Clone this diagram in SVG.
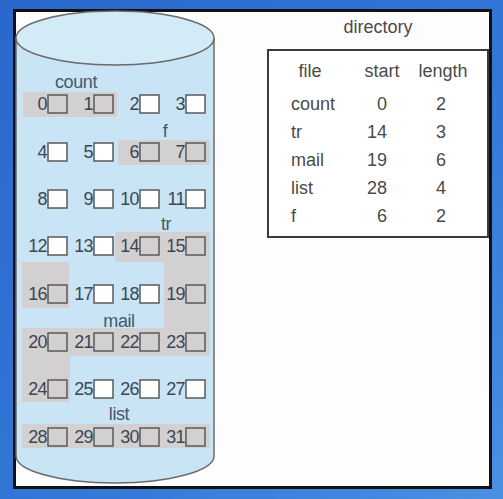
<svg xmlns="http://www.w3.org/2000/svg" width="503" height="499" viewBox="0 0 503 499">
<defs>
<linearGradient id="bg" x1="0" y1="0" x2="1" y2="1">
<stop offset="0" stop-color="#2a68cc"/>
<stop offset="0.6" stop-color="#3379d8"/>
<stop offset="1" stop-color="#4a90e4"/>
</linearGradient>
<style>
.num{font-family:"Liberation Sans",Arial,sans-serif;font-size:18px;fill:#3c4754;text-anchor:end;letter-spacing:-0.6px}
.lbl{font-family:"Liberation Sans",Arial,sans-serif;font-size:18px;fill:#46586c;text-anchor:middle;letter-spacing:-0.4px}
.box{fill:#ffffff;stroke:#5a5a5a;stroke-width:1.5}
.used{fill:#d3d0d1}
.shade{fill:#d3d0d1}
.tx{font-family:"Liberation Sans",Arial,sans-serif;font-size:18px;fill:#4a4a4a}
</style>
</defs>
<rect x="0" y="0" width="503" height="499" fill="url(#bg)"/>
<rect x="14.5" y="10.5" width="476" height="477" fill="#fdfdfd" stroke="#111" stroke-width="3"/>

<g id="disk">
<path d="M16,38 L16,456 A99,27 0 0 0 214,456 L214,38 Z" fill="#c9e4f4" stroke="#6a6a6a" stroke-width="1.5"/>
<rect class="shade" x="23" y="92" width="94" height="25"/>
<rect class="shade" x="118" y="140" width="92" height="25"/>
<rect class="shade" x="115" y="232" width="95" height="30"/>
<rect class="shade" x="22" y="262" width="47" height="46"/>
<rect class="shade" x="164" y="262" width="46" height="66"/>
<rect class="shade" x="22" y="328" width="188" height="28"/>
<rect class="shade" x="22" y="356" width="48" height="46"/>
<rect class="shade" x="22" y="424" width="188" height="24"/>
<ellipse cx="115" cy="38" rx="99" ry="27" fill="#d3eaf7" stroke="#6a6a6a" stroke-width="1.5"/>
</g>

<g id="labels">
<text class="lbl" x="76" y="88">count</text>
<text class="lbl" x="165" y="137">f</text>
<text class="lbl" x="166" y="230">tr</text>
<text class="lbl" x="119" y="327">mail</text>
<text class="lbl" x="119" y="420">list</text>
</g>

<g id="blocks">
<g id="b0"><text class="num" x="47" y="110">0</text><rect class="box used" x="48" y="95" width="19" height="18"/></g>
<g id="b1"><text class="num" x="93" y="110">1</text><rect class="box used" x="94" y="95" width="19" height="18"/></g>
<g id="b2"><text class="num" x="139" y="110">2</text><rect class="box" x="140" y="95" width="19" height="18"/></g>
<g id="b3"><text class="num" x="185" y="110">3</text><rect class="box" x="186" y="95" width="19" height="18"/></g>

<g id="b4"><text class="num" x="47" y="158">4</text><rect class="box" x="48" y="143" width="19" height="18"/></g>
<g id="b5"><text class="num" x="93" y="158">5</text><rect class="box" x="94" y="143" width="19" height="18"/></g>
<g id="b6"><text class="num" x="139" y="158">6</text><rect class="box used" x="140" y="143" width="19" height="18"/></g>
<g id="b7"><text class="num" x="185" y="158">7</text><rect class="box used" x="186" y="143" width="19" height="18"/></g>

<g id="b8"><text class="num" x="47" y="205">8</text><rect class="box" x="48" y="190" width="19" height="18"/></g>
<g id="b9"><text class="num" x="93" y="205">9</text><rect class="box" x="94" y="190" width="19" height="18"/></g>
<g id="b10"><text class="num" x="139" y="205">10</text><rect class="box" x="140" y="190" width="19" height="18"/></g>
<g id="b11"><text class="num" x="185" y="205">11</text><rect class="box" x="186" y="190" width="19" height="18"/></g>

<g id="b12"><text class="num" x="47" y="252">12</text><rect class="box" x="48" y="237" width="19" height="18"/></g>
<g id="b13"><text class="num" x="93" y="252">13</text><rect class="box" x="94" y="237" width="19" height="18"/></g>
<g id="b14"><text class="num" x="139" y="252">14</text><rect class="box used" x="140" y="237" width="19" height="18"/></g>
<g id="b15"><text class="num" x="185" y="252">15</text><rect class="box used" x="186" y="237" width="19" height="18"/></g>

<g id="b16"><text class="num" x="47" y="300">16</text><rect class="box used" x="48" y="285" width="19" height="18"/></g>
<g id="b17"><text class="num" x="93" y="300">17</text><rect class="box" x="94" y="285" width="19" height="18"/></g>
<g id="b18"><text class="num" x="139" y="300">18</text><rect class="box" x="140" y="285" width="19" height="18"/></g>
<g id="b19"><text class="num" x="185" y="300">19</text><rect class="box used" x="186" y="285" width="19" height="18"/></g>

<g id="b20"><text class="num" x="47" y="348">20</text><rect class="box used" x="48" y="333" width="19" height="18"/></g>
<g id="b21"><text class="num" x="93" y="348">21</text><rect class="box used" x="94" y="333" width="19" height="18"/></g>
<g id="b22"><text class="num" x="139" y="348">22</text><rect class="box used" x="140" y="333" width="19" height="18"/></g>
<g id="b23"><text class="num" x="185" y="348">23</text><rect class="box used" x="186" y="333" width="19" height="18"/></g>

<g id="b24"><text class="num" x="47" y="395">24</text><rect class="box used" x="48" y="380" width="19" height="18"/></g>
<g id="b25"><text class="num" x="93" y="395">25</text><rect class="box" x="94" y="380" width="19" height="18"/></g>
<g id="b26"><text class="num" x="139" y="395">26</text><rect class="box" x="140" y="380" width="19" height="18"/></g>
<g id="b27"><text class="num" x="185" y="395">27</text><rect class="box" x="186" y="380" width="19" height="18"/></g>

<g id="b28"><text class="num" x="47" y="443">28</text><rect class="box used" x="48" y="428" width="19" height="18"/></g>
<g id="b29"><text class="num" x="93" y="443">29</text><rect class="box used" x="94" y="428" width="19" height="18"/></g>
<g id="b30"><text class="num" x="139" y="443">30</text><rect class="box used" x="140" y="428" width="19" height="18"/></g>
<g id="b31"><text class="num" x="185" y="443">31</text><rect class="box used" x="186" y="428" width="19" height="18"/></g>
</g>

<g id="directory">
<text class="tx" x="378" y="33" text-anchor="middle">directory</text>
<rect x="268" y="50" width="220" height="187" fill="#ffffff" stroke="#3a3a3a" stroke-width="2"/>
<text class="tx" x="310" y="77" text-anchor="middle">file</text>
<text class="tx" x="382" y="77" text-anchor="middle">start</text>
<text class="tx" x="443" y="77" text-anchor="middle">length</text>
<text class="tx" x="291" y="110">count</text>
<text class="tx" x="387" y="110" text-anchor="end">0</text>
<text class="tx" x="441" y="110" text-anchor="middle">2</text>
<text class="tx" x="291" y="138">tr</text>
<text class="tx" x="387" y="138" text-anchor="end">14</text>
<text class="tx" x="441" y="138" text-anchor="middle">3</text>
<text class="tx" x="291" y="166">mail</text>
<text class="tx" x="387" y="166" text-anchor="end">19</text>
<text class="tx" x="441" y="166" text-anchor="middle">6</text>
<text class="tx" x="291" y="194">list</text>
<text class="tx" x="387" y="194" text-anchor="end">28</text>
<text class="tx" x="441" y="194" text-anchor="middle">4</text>
<text class="tx" x="291" y="222">f</text>
<text class="tx" x="387" y="222" text-anchor="end">6</text>
<text class="tx" x="441" y="222" text-anchor="middle">2</text>
</g>

<g id="connectors"/>
</svg>
